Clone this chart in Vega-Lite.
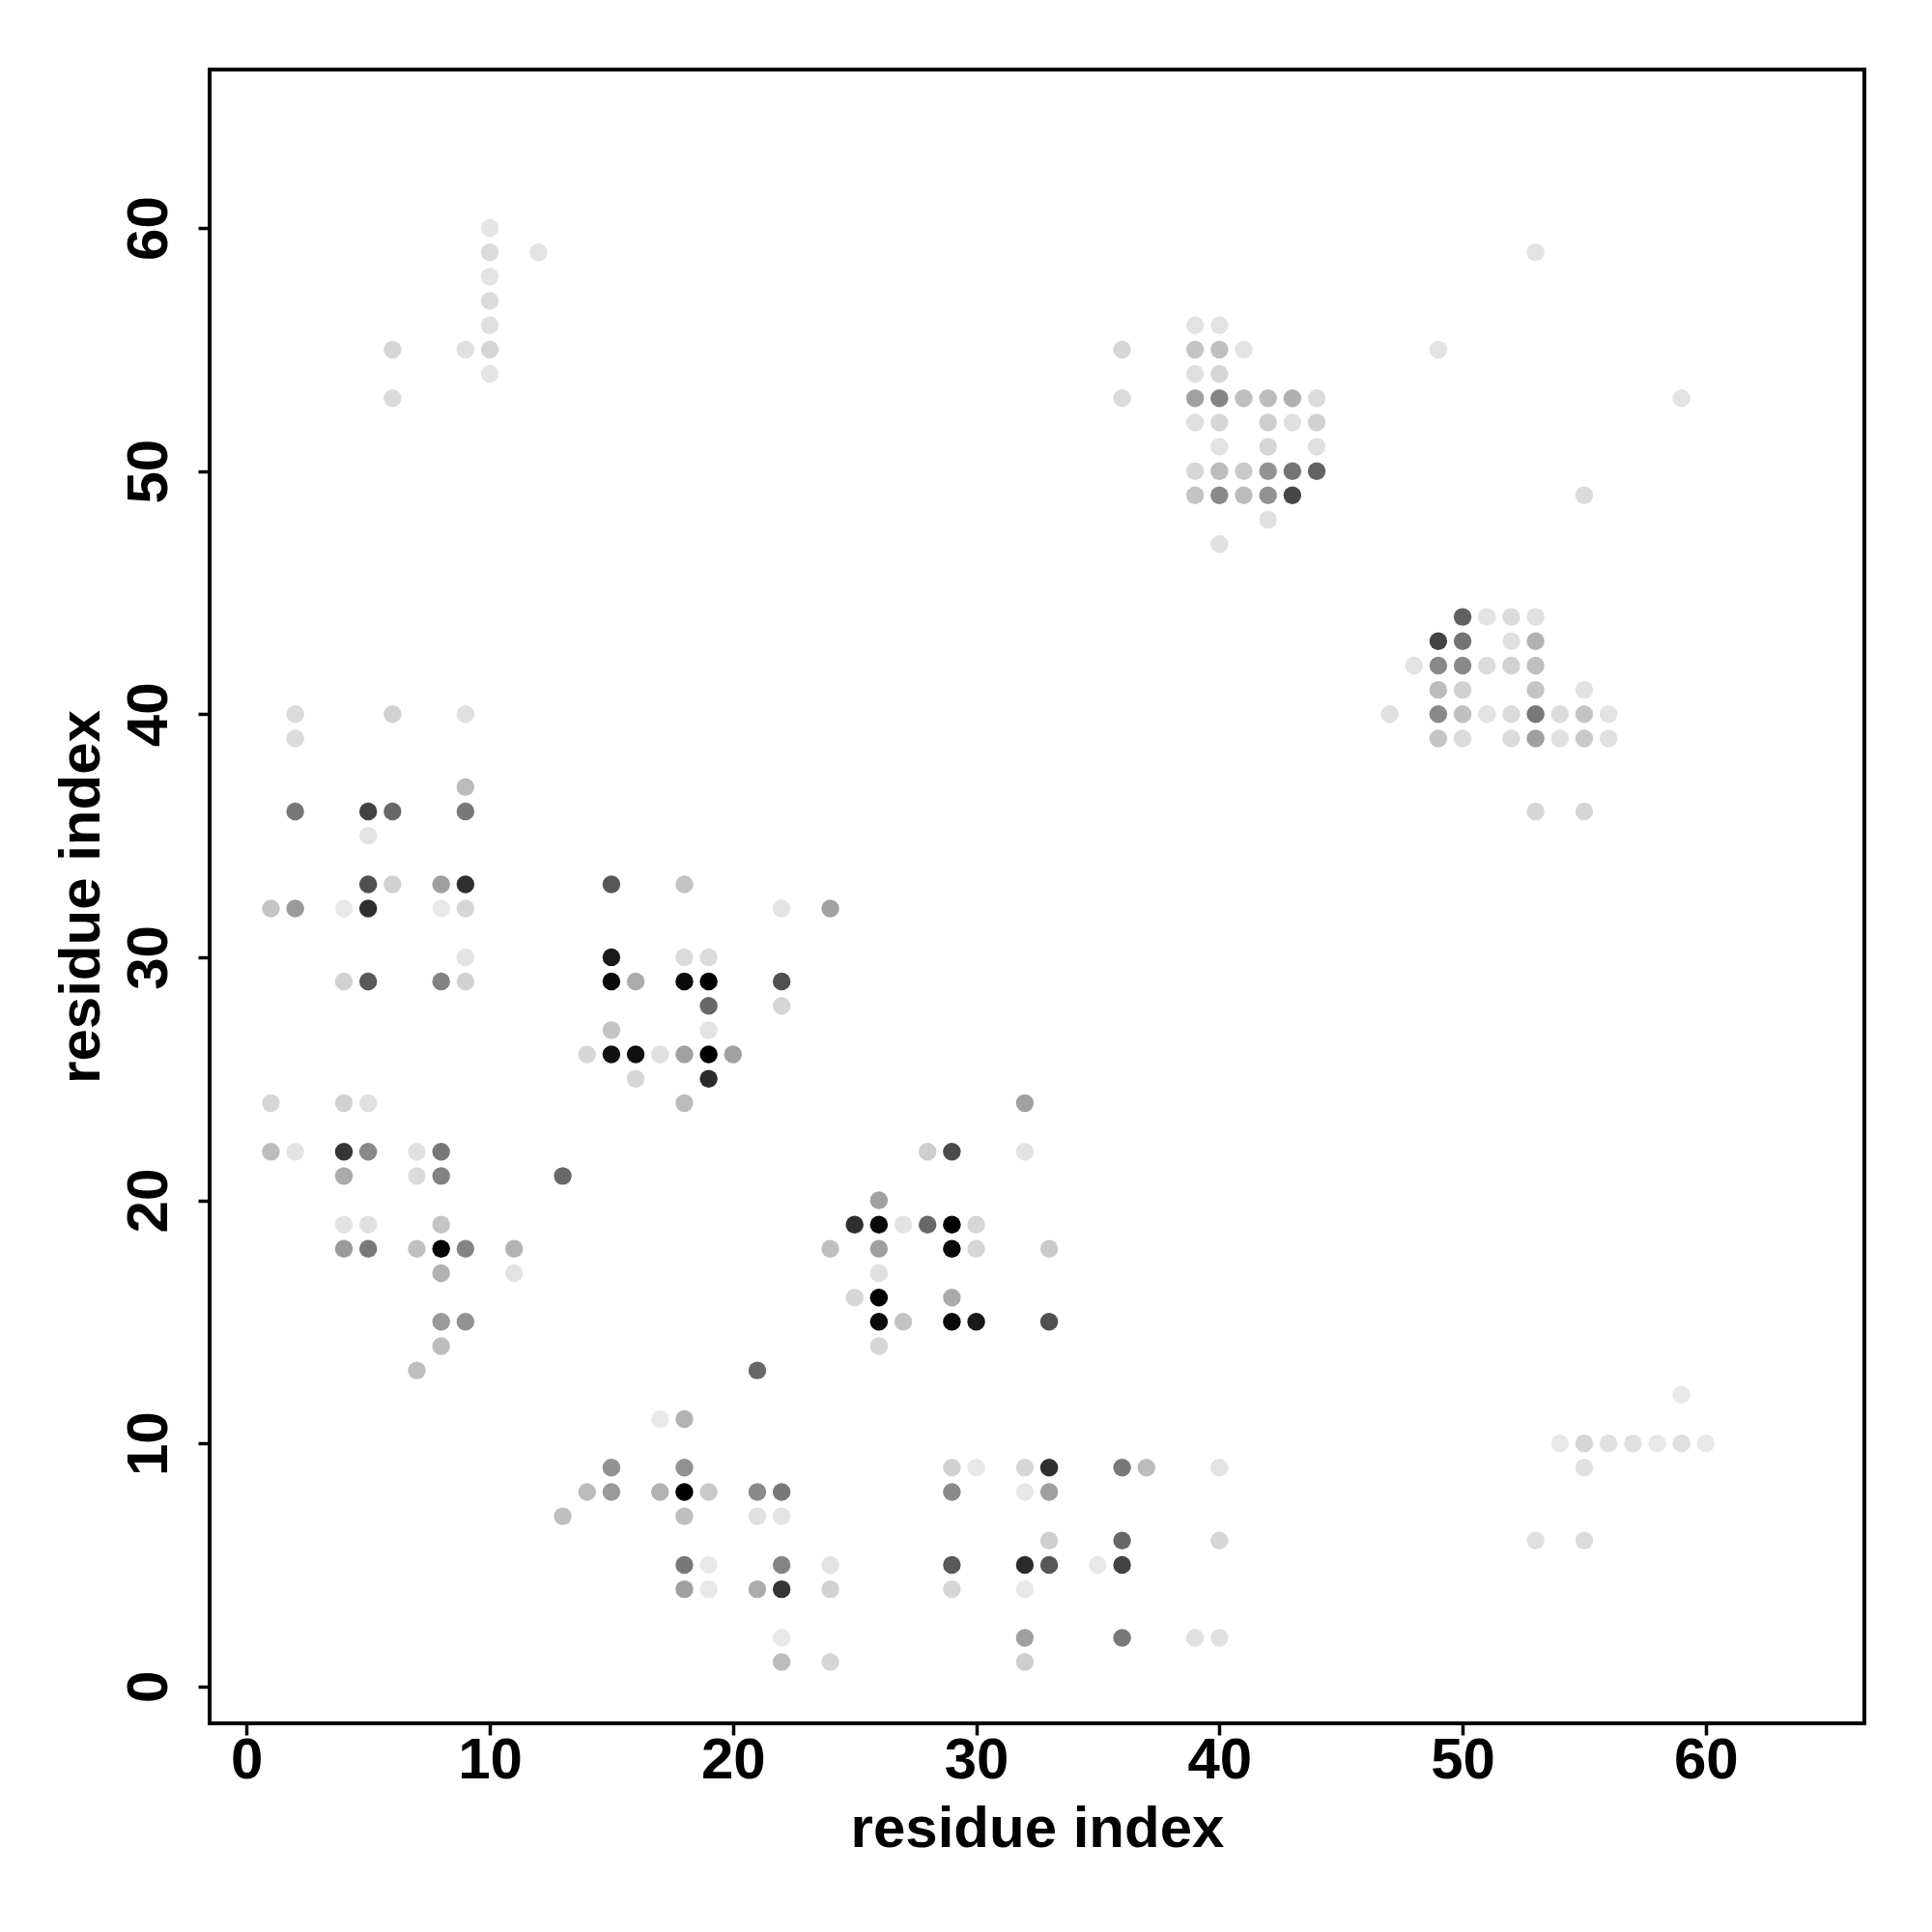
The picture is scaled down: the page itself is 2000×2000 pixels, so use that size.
{
  "$schema": "https://vega.github.io/schema/vega-lite/v6.json",
  "autosize": {"type": "none"},
  "padding": {"left": 217, "top": 72, "right": 70, "bottom": 216},
  "width": 1713,
  "height": 1712,
  "background": "white",
  "config": {
    "view": {"stroke": "black", "strokeWidth": 4},
    "axis": {
      "grid": false,
      "domain": false,
      "ticks": true,
      "tickColor": "black",
      "tickWidth": 3.5,
      "tickSize": 12,
      "labelFont": "Liberation Sans",
      "labelFontSize": 60,
      "labelFontWeight": "bold",
      "labelColor": "black",
      "labelFlush": false,
      "labelOverlap": false,
      "titleFont": "Liberation Sans",
      "titleFontSize": 60,
      "titleFontWeight": "bold",
      "titleColor": "black"
    }
  },
  "data": {"values": [
    {"i":10,"j":60,"s":0.01},{"i":10,"j":59,"s":0.05},{"i":12,"j":59,"s":0.02},{"i":10,"j":58,"s":0.02},{"i":10,"j":57,"s":0.05},{"i":10,"j":56,"s":0.03},{"i":6,"j":55,"s":0.07},{"i":9,"j":55,"s":0.03},{"i":10,"j":55,"s":0.07},{"i":10,"j":54,"s":0.01},{"i":6,"j":53,"s":0.05},
    {"i":39,"j":56,"s":0.02},{"i":40,"j":56,"s":0.02},
    {"i":36,"j":55,"s":0.07},{"i":39,"j":55,"s":0.14},{"i":40,"j":55,"s":0.16},{"i":41,"j":55,"s":0.02},
    {"i":39,"j":54,"s":0.03},{"i":40,"j":54,"s":0.07},
    {"i":36,"j":53,"s":0.05},{"i":39,"j":53,"s":0.28},{"i":40,"j":53,"s":0.40},{"i":41,"j":53,"s":0.16},{"i":42,"j":53,"s":0.17},{"i":43,"j":53,"s":0.22},{"i":44,"j":53,"s":0.05},
    {"i":39,"j":52,"s":0.03},{"i":40,"j":52,"s":0.07},{"i":42,"j":52,"s":0.10},{"i":43,"j":52,"s":0.03},{"i":44,"j":52,"s":0.09},
    {"i":40,"j":51,"s":0.02},{"i":42,"j":51,"s":0.07},{"i":44,"j":51,"s":0.03},
    {"i":39,"j":50,"s":0.07},{"i":40,"j":50,"s":0.17},{"i":41,"j":50,"s":0.12},{"i":42,"j":50,"s":0.34},{"i":43,"j":50,"s":0.47},{"i":44,"j":50,"s":0.55},
    {"i":39,"j":49,"s":0.14},{"i":40,"j":49,"s":0.38},{"i":41,"j":49,"s":0.17},{"i":42,"j":49,"s":0.34},{"i":43,"j":49,"s":0.67},
    {"i":42,"j":48,"s":0.03},{"i":40,"j":47,"s":0.03},
    {"i":53,"j":59,"s":0.02},{"i":49,"j":55,"s":0.02},{"i":59,"j":53,"s":0.02},{"i":55,"j":49,"s":0.05},
    {"i":50,"j":44,"s":0.55},{"i":51,"j":44,"s":0.02},{"i":52,"j":44,"s":0.05},{"i":53,"j":44,"s":0.03},
    {"i":49,"j":43,"s":0.69},{"i":50,"j":43,"s":0.47},{"i":52,"j":43,"s":0.03},{"i":53,"j":43,"s":0.21},
    {"i":48,"j":42,"s":0.02},{"i":49,"j":42,"s":0.38},{"i":50,"j":42,"s":0.38},{"i":51,"j":42,"s":0.05},{"i":52,"j":42,"s":0.09},{"i":53,"j":42,"s":0.16},
    {"i":49,"j":41,"s":0.17},{"i":50,"j":41,"s":0.09},{"i":53,"j":41,"s":0.14},{"i":55,"j":41,"s":0.02},
    {"i":47,"j":40,"s":0.03},{"i":49,"j":40,"s":0.38},{"i":50,"j":40,"s":0.16},{"i":51,"j":40,"s":0.02},{"i":52,"j":40,"s":0.05},{"i":53,"j":40,"s":0.45},{"i":54,"j":40,"s":0.05},{"i":55,"j":40,"s":0.14},{"i":56,"j":40,"s":0.02},
    {"i":49,"j":39,"s":0.14},{"i":50,"j":39,"s":0.05},{"i":52,"j":39,"s":0.05},{"i":53,"j":39,"s":0.29},{"i":54,"j":39,"s":0.03},{"i":55,"j":39,"s":0.12},{"i":56,"j":39,"s":0.03},
    {"i":53,"j":36,"s":0.07},{"i":55,"j":36,"s":0.07},
    {"i":2,"j":40,"s":0.05},{"i":6,"j":40,"s":0.09},{"i":9,"j":40,"s":0.03},
    {"i":2,"j":39,"s":0.05},{"i":9,"j":37,"s":0.17},
    {"i":2,"j":36,"s":0.45},{"i":5,"j":36,"s":0.69},{"i":6,"j":36,"s":0.52},{"i":9,"j":36,"s":0.45},
    {"i":5,"j":35,"s":0.02},
    {"i":5,"j":33,"s":0.63},{"i":6,"j":33,"s":0.09},{"i":8,"j":33,"s":0.29},{"i":9,"j":33,"s":0.79},
    {"i":1,"j":32,"s":0.14},{"i":2,"j":32,"s":0.31},{"i":4,"j":32,"s":0.0},{"i":5,"j":32,"s":0.79},{"i":8,"j":32,"s":0.0},{"i":9,"j":32,"s":0.07},
    {"i":9,"j":30,"s":0.02},
    {"i":4,"j":29,"s":0.09},{"i":5,"j":29,"s":0.59},{"i":8,"j":29,"s":0.41},{"i":9,"j":29,"s":0.09},
    {"i":1,"j":24,"s":0.07},{"i":4,"j":24,"s":0.09},{"i":5,"j":24,"s":0.03},
    {"i":1,"j":22,"s":0.17},{"i":2,"j":22,"s":0.02},{"i":4,"j":22,"s":0.76},{"i":5,"j":22,"s":0.38},{"i":7,"j":22,"s":0.03},{"i":8,"j":22,"s":0.45},
    {"i":4,"j":21,"s":0.24},{"i":7,"j":21,"s":0.05},{"i":8,"j":21,"s":0.41},{"i":13,"j":21,"s":0.52},
    {"i":4,"j":19,"s":0.02},{"i":5,"j":19,"s":0.03},{"i":8,"j":19,"s":0.14},
    {"i":4,"j":18,"s":0.31},{"i":5,"j":18,"s":0.45},{"i":7,"j":18,"s":0.16},{"i":8,"j":18,"s":1.0},{"i":9,"j":18,"s":0.40},{"i":11,"j":18,"s":0.21},
    {"i":8,"j":17,"s":0.21},{"i":11,"j":17,"s":0.02},
    {"i":8,"j":15,"s":0.31},{"i":9,"j":15,"s":0.34},
    {"i":8,"j":14,"s":0.17},{"i":7,"j":13,"s":0.16},
    {"i":15,"j":33,"s":0.60},{"i":18,"j":33,"s":0.14},
    {"i":22,"j":32,"s":0.02},{"i":24,"j":32,"s":0.28},
    {"i":15,"j":30,"s":0.90},{"i":18,"j":30,"s":0.05},{"i":19,"j":30,"s":0.05},
    {"i":15,"j":29,"s":0.97},{"i":16,"j":29,"s":0.24},{"i":18,"j":29,"s":0.97},{"i":19,"j":29,"s":1.0},{"i":22,"j":29,"s":0.63},
    {"i":19,"j":28,"s":0.52},{"i":22,"j":28,"s":0.07},
    {"i":15,"j":27,"s":0.14},{"i":19,"j":27,"s":0.02},
    {"i":14,"j":26,"s":0.07},{"i":15,"j":26,"s":0.95},{"i":16,"j":26,"s":0.95},{"i":17,"j":26,"s":0.03},{"i":18,"j":26,"s":0.28},{"i":19,"j":26,"s":1.0},{"i":20,"j":26,"s":0.28},
    {"i":16,"j":25,"s":0.07},{"i":19,"j":25,"s":0.81},
    {"i":18,"j":24,"s":0.17},
    {"i":32,"j":24,"s":0.28},
    {"i":28,"j":22,"s":0.10},{"i":29,"j":22,"s":0.66},{"i":32,"j":22,"s":0.02},
    {"i":26,"j":20,"s":0.28},
    {"i":25,"j":19,"s":0.79},{"i":26,"j":19,"s":0.97},{"i":27,"j":19,"s":0.02},{"i":28,"j":19,"s":0.52},{"i":29,"j":19,"s":1.0},{"i":30,"j":19,"s":0.07},
    {"i":24,"j":18,"s":0.16},{"i":26,"j":18,"s":0.29},{"i":29,"j":18,"s":0.97},{"i":30,"j":18,"s":0.07},{"i":33,"j":18,"s":0.12},
    {"i":26,"j":17,"s":0.03},
    {"i":25,"j":16,"s":0.07},{"i":26,"j":16,"s":1.0},{"i":29,"j":16,"s":0.24},
    {"i":26,"j":15,"s":0.97},{"i":27,"j":15,"s":0.14},{"i":29,"j":15,"s":0.97},{"i":30,"j":15,"s":0.90},{"i":33,"j":15,"s":0.63},
    {"i":26,"j":14,"s":0.07},
    {"i":21,"j":13,"s":0.52},
    {"i":17,"j":11,"s":0.0},{"i":18,"j":11,"s":0.21},
    {"i":15,"j":9,"s":0.34},{"i":18,"j":9,"s":0.34},
    {"i":14,"j":8,"s":0.17},{"i":15,"j":8,"s":0.31},{"i":17,"j":8,"s":0.21},{"i":18,"j":8,"s":1.0},{"i":19,"j":8,"s":0.12},{"i":21,"j":8,"s":0.38},{"i":22,"j":8,"s":0.45},
    {"i":13,"j":7,"s":0.16},{"i":18,"j":7,"s":0.16},{"i":21,"j":7,"s":0.03},{"i":22,"j":7,"s":0.02},
    {"i":18,"j":5,"s":0.45},{"i":19,"j":5,"s":0.0},{"i":22,"j":5,"s":0.40},{"i":24,"j":5,"s":0.02},
    {"i":18,"j":4,"s":0.29},{"i":19,"j":4,"s":0.0},{"i":21,"j":4,"s":0.24},{"i":22,"j":4,"s":0.76},{"i":24,"j":4,"s":0.09},
    {"i":22,"j":2,"s":0.0},
    {"i":22,"j":1,"s":0.17},{"i":24,"j":1,"s":0.07},
    {"i":29,"j":9,"s":0.09},{"i":30,"j":9,"s":0.0},{"i":32,"j":9,"s":0.07},{"i":33,"j":9,"s":0.79},{"i":36,"j":9,"s":0.45},{"i":37,"j":9,"s":0.17},{"i":40,"j":9,"s":0.02},
    {"i":29,"j":8,"s":0.38},{"i":32,"j":8,"s":0.0},{"i":33,"j":8,"s":0.29},
    {"i":33,"j":6,"s":0.10},{"i":36,"j":6,"s":0.52},{"i":40,"j":6,"s":0.07},
    {"i":29,"j":5,"s":0.59},{"i":32,"j":5,"s":0.81},{"i":33,"j":5,"s":0.60},{"i":35,"j":5,"s":0.0},{"i":36,"j":5,"s":0.69},
    {"i":29,"j":4,"s":0.07},{"i":32,"j":4,"s":0.0},
    {"i":32,"j":2,"s":0.29},{"i":36,"j":2,"s":0.45},{"i":39,"j":2,"s":0.03},{"i":40,"j":2,"s":0.03},
    {"i":32,"j":1,"s":0.10},
    {"i":59,"j":12,"s":0.0},
    {"i":54,"j":10,"s":0.0},{"i":55,"j":10,"s":0.07},{"i":56,"j":10,"s":0.03},{"i":57,"j":10,"s":0.03},{"i":58,"j":10,"s":0.0},{"i":59,"j":10,"s":0.03},{"i":60,"j":10,"s":0.0},
    {"i":55,"j":9,"s":0.03},
    {"i":53,"j":6,"s":0.03},{"i":55,"j":6,"s":0.05}
  ]},
  "mark": {"type": "circle", "size": 340, "opacity": 1},
  "encoding": {
    "x": {
      "field": "i", "type": "quantitative",
      "scale": {"domain": [-1.52, 66.52], "nice": false, "zero": false},
      "axis": {
        "orient": "bottom",
        "values": [0, 10, 20, 30, 40, 50, 60],
        "labelBaseline": "alphabetic",
        "labelPadding": 44,
        "title": "residue index",
        "titleX": 856.5,
        "titleY": 127,
        "titleBaseline": "alphabetic",
        "titleAlign": "center"
      }
    },
    "y": {
      "field": "j", "type": "quantitative",
      "scale": {"domain": [-1.52, 66.52], "nice": false, "zero": false},
      "axis": {
        "orient": "left",
        "values": [0, 10, 20, 30, 40, 50, 60],
        "labelAngle": 270,
        "labelAlign": "center",
        "labelBaseline": "alphabetic",
        "labelPadding": 33,
        "title": "residue index",
        "titleAngle": 270,
        "titleX": -115,
        "titleY": 856,
        "titleBaseline": "alphabetic",
        "titleAlign": "center"
      }
    },
    "color": {
      "field": "s", "type": "quantitative",
      "scale": {"domain": [0, 1], "range": ["#e8e8e8", "#000000"]},
      "legend": null
    }
  }
}
